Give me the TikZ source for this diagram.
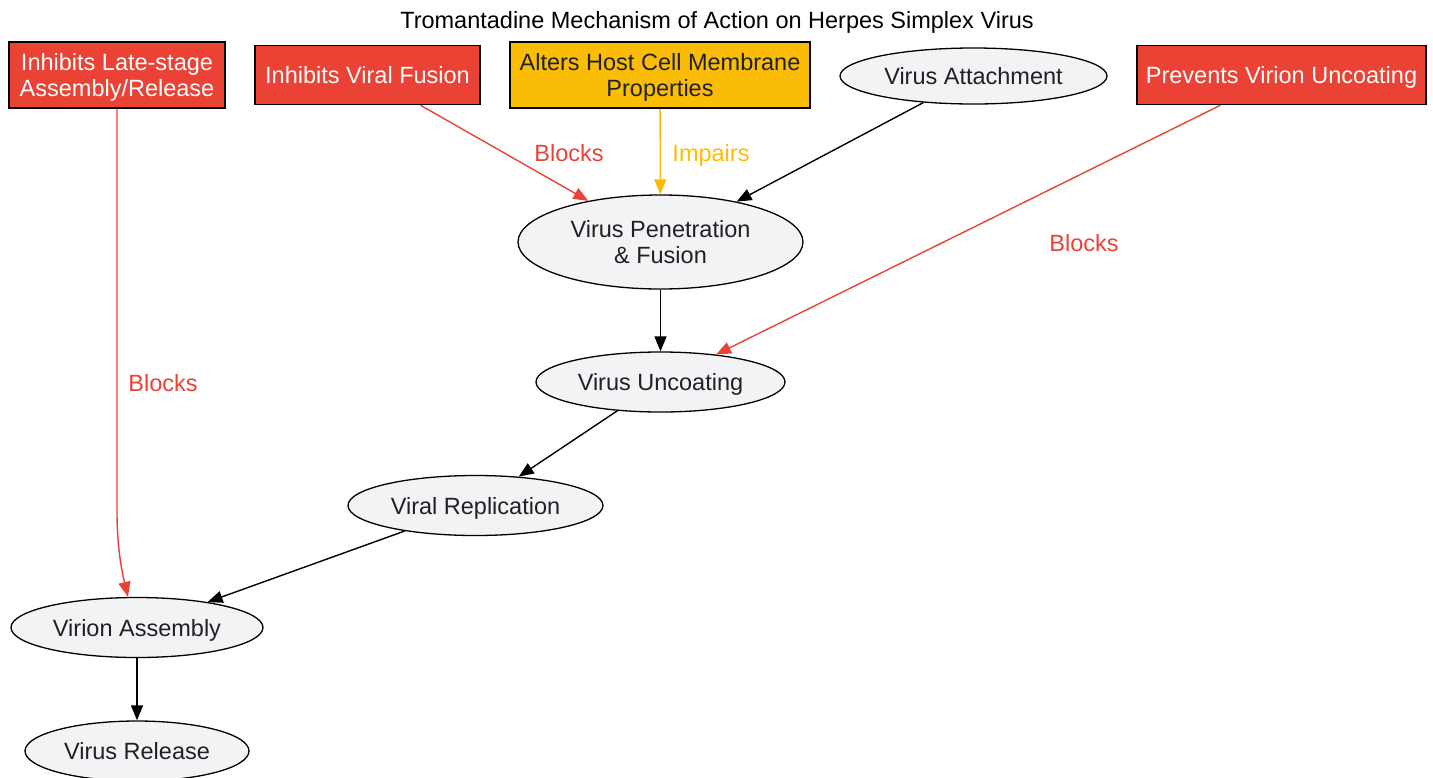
\documentclass[tikz,border=0pt]{standalone}
\usepackage{fontspec}
\setmainfont{Liberation Sans}
\usetikzlibrary{shapes.geometric,arrows.meta}
\definecolor{gred}{HTML}{EA4335}
\definecolor{gamber}{HTML}{FBBC05}
\definecolor{gfill}{HTML}{F1F3F4}
\definecolor{gtext}{HTML}{202124}
\begin{document}
\begin{tikzpicture}[x=1pt,y=-1pt,
  every node/.style={font=\fontsize{23.5}{26.5}\selectfont},
  fix/.style={text height=17pt,text depth=0pt},
  twoline/.style={text height=43.5pt,text depth=0pt},
  redbox/.style={rectangle,draw=black,line width=1.5pt,fill=gred,text=white,align=center,inner xsep=9pt,inner ysep=4pt,minimum height=59pt,fix},
  ambbox/.style={rectangle,draw=black,line width=1.5pt,fill=gamber,text=gtext,align=center,inner xsep=9pt,inner ysep=4pt,minimum height=66pt,fix},
  stage/.style={ellipse,draw=black,line width=1.3pt,fill=gfill,text=gtext,align=center,inner sep=0pt,fix},
  flow/.style={draw=black,line width=1.4pt,-{Triangle[length=15pt,width=12pt]}},
  redflow/.style={draw=gred,line width=1.4pt,-{Triangle[length=15pt,width=12pt]}},
  ambflow/.style={draw=gamber,line width=1.4pt,-{Triangle[length=15pt,width=12pt]}},
  lab/.style={inner sep=0pt,fix}
]
\useasboundingbox (0,0) rectangle (1433,777);
\node[text=black] (title) at (717,22) {Tromantadine Mechanism of Action on Herpes Simplex Virus};

\node[redbox,twoline,minimum width=216pt,minimum height=66pt] (late) at (117,75) {Inhibits Late-stage\\Assembly/Release};
\node[redbox,minimum width=225pt] (fusion) at (367.5,75) {Inhibits Viral Fusion};
\node[ambbox,twoline,minimum width=300pt] (alters) at (660,75) {Alters Host Cell Membrane\\Properties};
\node[stage,minimum width=267pt,minimum height=56pt] (attach) at (973.5,76) {Virus Attachment};
\node[redbox,minimum width=289pt] (prevent) at (1281.5,75) {Prevents Virion Uncoating};

\node[stage,twoline,minimum width=285pt,minimum height=94pt] (pen) at (660.5,242) {Virus Penetration\\\& Fusion};
\node[stage,minimum width=249pt,minimum height=60pt] (unc) at (660.5,382) {Virus Uncoating};
\node[stage,minimum width=255pt,minimum height=60pt] (rep) at (475.5,505.5) {Viral Replication};
\node[stage,minimum width=252pt,minimum height=60pt] (asm) at (137,627.5) {Virion Assembly};
\node[stage,minimum width=224pt,minimum height=60pt] (rel) at (137,751) {Virus Release};

\coordinate (bend) at (117,512);

\draw[redflow] (fusion) -- (pen);
\node[lab,text=gred] (lb1) at (569,153) {Blocks};
\draw[ambflow] (alters) -- (pen);
\node[lab,text=gamber] (lb2) at (711,153) {Impairs};
\draw[flow] (attach) -- (pen);
\draw[redflow] (prevent) -- (unc);
\node[lab,text=gred] (lb3) at (1084,243) {Blocks};
\draw[flow] (pen) -- (unc);
\draw[flow] (unc) -- (rep);
\draw[flow] (rep) -- (asm);
\draw[flow] (asm) -- (rel);
\draw[redflow] (late.south) -- (bend) .. controls (117,548) and (122,572) .. ([xshift=-9pt]asm.north);
\node[lab,text=gred] (lb4) at (163,383) {Blocks};
\end{tikzpicture}
\end{document}
